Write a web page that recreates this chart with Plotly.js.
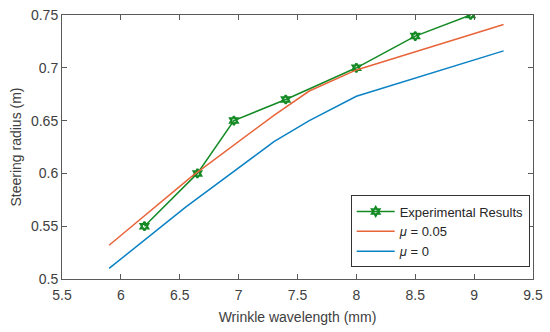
<!DOCTYPE html>
<html>
<head>
<meta charset="utf-8">
<script src="https://cdn.plot.ly/plotly-3.0.1.min.js"></script>
<style>html,body{margin:0;padding:0;background:#fff;}#chart{width:550px;height:332px;}</style>
</head>
<body>
<div id="chart"></div>
<script>
const expX = [6.2, 6.65, 6.96, 7.4, 8.0, 8.5, 8.97];
const expY = [0.55, 0.60, 0.65, 0.67, 0.70, 0.73, 0.75];
const mu005X = [5.9, 6.6, 7.3, 7.6, 8.0, 9.25];
const mu005Y = [0.532, 0.597, 0.655, 0.678, 0.698, 0.741];
const mu0X = [5.9, 6.55, 7.3, 7.6, 8.0, 9.25];
const mu0Y = [0.510, 0.568, 0.630, 0.650, 0.673, 0.716];
const xTicks = [5.5, 6, 6.5, 7, 7.5, 8, 8.5, 9, 9.5];
const yTicks = [0.5, 0.55, 0.6, 0.65, 0.7, 0.75];

const font = {family: 'Arial, "Liberation Sans", sans-serif', size: 14, color: '#404040'};
const traces = [
  {x: expX, y: expY, mode: 'lines+markers', name: 'Experimental Results',
   line: {color: '#138a24', width: 1.5},
   marker: {symbol: 'hexagram-open', size: 6.5, color: '#138a24', line: {color: '#138a24', width: 2.2}}},
  {x: mu005X, y: mu005Y, mode: 'lines', name: '<i>μ</i> = 0.05',
   line: {color: '#E8643A', width: 1.5}},
  {x: mu0X, y: mu0Y, mode: 'lines', name: '<i>μ</i> = 0',
   line: {color: '#0A82C4', width: 1.5}}
];
const axisCommon = {
  showgrid: false, zeroline: false, showline: true, linecolor: '#5a5a5a', linewidth: 1,
  mirror: 'ticks', ticks: 'inside', ticklen: 5, tickcolor: '#5a5a5a', tickwidth: 1,
  tickfont: font
};
const layout = {
  width: 550, height: 332,
  margin: {l: 62, r: 17, t: 15, b: 53},
  paper_bgcolor: '#fff', plot_bgcolor: '#fff',
  font: font,
  showlegend: true,
  legend: {x: 0.993, y: 0.18, xanchor: 'right', yanchor: 'middle',
           bordercolor: '#333', borderwidth: 1, bgcolor: '#fff',
           font: {family: font.family, size: 13, color: '#262626'},
           itemwidth: 38, tracegroupgap: 0},
  xaxis: Object.assign({}, axisCommon, {range: [5.5, 9.5], tickvals: xTicks,
    ticklabelstandoff: 3,
    title: {text: 'Wrinkle wavelength (mm)', font: font, standoff: 10}}),
  yaxis: Object.assign({}, axisCommon, {range: [0.5, 0.75], tickvals: yTicks,
    title: {text: 'Steering radius (m)', font: font, standoff: 6}})
};
Plotly.newPlot('chart', traces, layout, {staticPlot: true, displayModeBar: false});
</script>
</body>
</html>
